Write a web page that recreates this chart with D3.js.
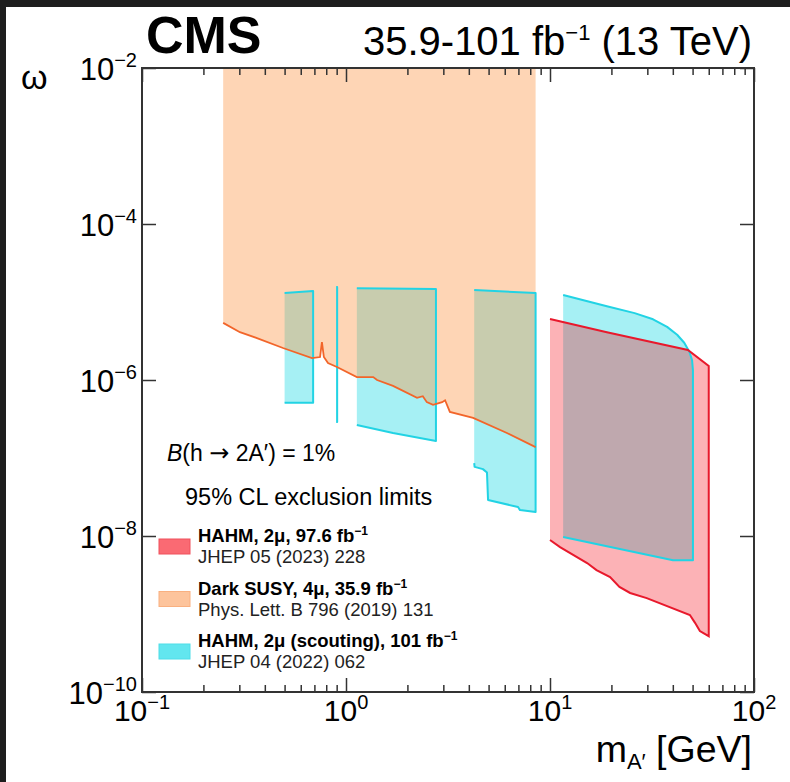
<!DOCTYPE html>
<html>
<head>
<meta charset="UTF-8" />
<style>
    body { margin: 0; padding: 0; background: #fff; }
    text { font-family: "Liberation Sans", Arial, sans-serif; fill: #000; }
    .frame { fill: none; stroke: #333; stroke-width: 2px; }
    .axis path { display: none; }
    .axis line { stroke: #333; stroke-width: 1.5px; }
</style>
<title>CMS dark photon limits</title>
</head>
<body>
<svg width="790" height="782"></svg>
<script src="https://d3js.org/d3.v7.min.js"></script>
<script>
    // ---- data (m_A' in GeV, omega) ----
    // Dark SUSY 4mu: excluded from the limit curve up to the top of the plot
    const susyMass  = [0.25, 0.302, 0.366, 0.491, 0.681, 0.746, 0.762, 0.779, 0.816, 0.903, 1.13, 1.36, 1.42, 1.70, 2.23, 2.38, 2.49, 2.67, 2.96, 3.06, 3.23, 4.20, 6.15, 8.5];
    const susyLimit = [5.4e-6, 4.1e-6, 3.45e-6, 2.57e-6, 1.91e-6, 1.97e-6, 3.07e-6, 1.97e-6, 1.65e-6, 1.47e-6, 1.09e-6, 1.09e-6, 1.0e-6, 8.4e-7, 5.9e-7, 6.2e-7, 5.2e-7, 4.8e-7, 5.2e-7, 5.5e-7, 3.9e-7, 3.26e-7, 2.09e-7, 1.38e-7];
    const susyTop = 1e-2;

    // HAHM 2mu scouting: excluded bands, [mass, omega] pairs
    const scoutTop = [
        [[0.5, 1.3e-5], [0.69, 1.38e-5]],
        [[0.895, 1.56e-5], [0.905, 1.56e-5]],
        [[1.13, 1.5e-5], [2.76, 1.47e-5]],
        [[4.25, 1.43e-5], [8.5, 1.3e-5]],
        [[11.6, 1.23e-5], [19, 8.8e-6], [26, 7.2e-6], [32, 6.0e-6], [37.5, 4.8e-6], [42, 3.8e-6], [45.5, 3.0e-6], [48.2, 2.3e-6], [49.7, 1.8e-6], [50.2, 1.34e-6]]
    ];
    const scoutBottom = [
        [[0.5, 5.1e-7], [0.69, 5.1e-7]],
        [[0.895, 2.9e-7], [0.905, 2.9e-7]],
        [[1.13, 2.65e-7], [1.7, 2.09e-7], [2.76, 1.65e-7]],
        [[4.25, 8.6e-8], [4.27, 7.7e-8], [4.69, 7.2e-8], [4.91, 6.5e-8], [4.97, 2.9e-8], [6.97, 2.35e-8], [7.13, 2.15e-8], [8.5, 2.03e-8]],
        [[11.6, 9.7e-9], [40.1, 4.9e-9], [50.2, 4.9e-9]]
    ];

    // HAHM 2mu 97.6 fb-1
    const hahmTop    = [[10, 6.05e-6], [19, 4.1e-6], [47.4, 2.43e-6], [60, 1.51e-6]];
    const hahmBottom = [[10, 8.9e-9], [11.2, 7.2e-9], [15.2, 4.5e-9], [16.9, 3.66e-9], [19.7, 2.98e-9], [21.9, 2.22e-9], [24.7, 1.86e-9], [29.8, 1.6e-9], [48.5, 9.7e-10], [51.4, 7.7e-10], [54.3, 6.05e-10], [60, 5.2e-10]];

    const xMajor = [0.1, 1, 10, 100];
    const xMajorExp = ["−1", "0", "1", "2"];
    const yMajor = [1e-2, 1e-4, 1e-6, 1e-8, 1e-10];
    const yMajorExp = ["−2", "−4", "−6", "−8", "−10"];

    const legendTitle = ["HAHM, 2μ, 97.6 fb", "Dark SUSY, 4μ, 35.9 fb", "HAHM, 2μ (scouting), 101 fb"];
    const legendRef = ["JHEP 05 (2023) 228", "Phys. Lett. B 796 (2019) 131", "JHEP 04 (2022) 062"];
    const legendFill = ["#fa6a73", "#fdc49c", "#62e6ef"];
    const legendStroke = ["#f0505c", "#f9b080", "#4fdde8"];

    // ---- drawing ----
    var svg = d3.select("svg");

    // screenshot border
    svg.append("rect").attr("width", 790).attr("height", 782).attr("fill", "#1e1e1e");
    svg.append("rect").attr("x", 6).attr("y", 7).attr("width", 784).attr("height", 775).attr("fill", "#fff");

    var x = d3.scaleLog().domain([0.1, 100]).range([142, 754]);
    var y = d3.scaleLog().domain([1e-10, 1e-2]).range([692, 68]);

    var line = d3.line().x(d => x(d[0])).y(d => y(d[1]));

    const cyanFill = "rgba(0,212,223,0.35)";
    const orangeFill = "rgba(253,150,70,0.4)";
    const redFill = "rgba(245,10,23,0.315)";

    // fills first
    scoutTop.forEach((top, i) => {
        var pts = top.concat(scoutBottom[i].slice().reverse());
        svg.append("path").attr("d", line(pts) + "Z").attr("fill", cyanFill);
    });

    var susyPts = susyMass.map((m, i) => [m, susyLimit[i]]);
    var susyPoly = [[susyMass[0], susyTop], [susyMass[susyMass.length - 1], susyTop]]
        .concat(susyPts.slice().reverse());
    svg.append("path").attr("d", line(susyPoly) + "Z").attr("fill", orangeFill);

    svg.append("path")
        .attr("d", line(hahmTop.concat(hahmBottom.slice().reverse())) + "Z")
        .attr("fill", redFill);

    // outlines
    scoutTop.forEach((top, i) => {
        svg.append("path")
            .attr("d", line(top.concat(scoutBottom[i].slice().reverse())))
            .attr("fill", "none").attr("stroke", "#22d3e4").attr("stroke-width", 2)
            .attr("stroke-linejoin", "round");
    });
    svg.append("path").attr("d", line(susyPts))
        .attr("fill", "none").attr("stroke", "#f2652a").attr("stroke-width", 1.8);
    svg.append("path").attr("d", line(hahmTop.concat(hahmBottom.slice().reverse())))
        .attr("fill", "none").attr("stroke", "#e8192c").attr("stroke-width", 2);

    // axes (inward ticks on all four sides)
    var xMinor = [];
    [0.1, 1, 10].forEach(d => { for (var k = 2; k <= 9; k++) xMinor.push(d * k); });

    function addAxis(axis, tx, ty) {
        svg.append("g").attr("class", "axis").attr("transform", `translate(${tx},${ty})`)
            .call(axis).selectAll("text").remove();
    }
    addAxis(d3.axisBottom(x).tickValues(xMajor).tickSize(-14).tickSizeOuter(0), 0, 692);
    addAxis(d3.axisBottom(x).tickValues(xMinor).tickSize(-7).tickSizeOuter(0), 0, 692);
    addAxis(d3.axisTop(x).tickValues(xMajor).tickSize(-14).tickSizeOuter(0), 0, 68);
    addAxis(d3.axisTop(x).tickValues(xMinor).tickSize(-7).tickSizeOuter(0), 0, 68);
    addAxis(d3.axisLeft(y).tickValues(yMajor).tickSize(-14).tickSizeOuter(0), 142, 0);
    addAxis(d3.axisRight(y).tickValues(yMajor).tickSize(-14).tickSizeOuter(0), 754, 0);

    svg.append("rect").attr("class", "frame")
        .attr("x", 142).attr("y", 68).attr("width", 612).attr("height", 624);

    // tick labels
    xMajor.forEach((v, i) => {
        var t = svg.append("text").attr("x", x(v)).attr("y", 721)
            .attr("text-anchor", "middle").style("font-size", "30px");
        t.append("tspan").text("10");
        t.append("tspan").attr("dy", -12).style("font-size", "20px").text(xMajorExp[i]);
    });
    yMajor.forEach((v, i) => {
        var t = svg.append("text").attr("x", 137).attr("y", y(v) + 12)
            .attr("text-anchor", "end").style("font-size", "31px");
        t.append("tspan").text("10");
        t.append("tspan").attr("dy", -13).style("font-size", "20px").text(yMajorExp[i]);
    });

    // axis titles
    var xt = svg.append("text").attr("x", 752).attr("y", 762)
        .attr("text-anchor", "end").style("font-size", "37.5px");
    xt.append("tspan").text("m");
    xt.append("tspan").attr("dy", 7).style("font-size", "22px").text("A′");
    xt.append("tspan").attr("dy", -7).text(" [GeV]");

    svg.append("text").attr("x", 21).attr("y", 89).style("font-size", "34px").text("ω");

    // header
    svg.append("text").attr("x", 146).attr("y", 53)
        .style("font-size", "52px").style("font-weight", "bold").text("CMS");
    var ht = svg.append("text").attr("x", 752).attr("y", 55)
        .attr("text-anchor", "end").style("font-size", "40px");
    ht.append("tspan").text("35.9-101 fb");
    ht.append("tspan").attr("dy", -15).style("font-size", "22px").text("−1");
    ht.append("tspan").attr("dy", 15).text(" (13 TeV)");

    // legend
    var bt = svg.append("text").attr("x", 167).attr("y", 461).style("font-size", "23px");
    bt.append("tspan").style("font-style", "italic").text("B");
    bt.append("tspan").text("(h ");
    bt.append("tspan").style("font-family", "'DejaVu Sans'").style("font-size", "24px").text("→");
    bt.append("tspan").text(" 2A′) = 1%");

    svg.append("text").attr("x", 185).attr("y", 505).style("font-size", "23.5px")
        .text("95% CL exclusion limits");

    legendTitle.forEach((s, i) => {
        var yy = 542 + i * 52.5;
        svg.append("rect").attr("x", 159).attr("y", yy - 3).attr("width", 31).attr("height", 15)
            .attr("fill", legendFill[i]).attr("stroke", legendStroke[i]).attr("stroke-width", 1);
        var t = svg.append("text").attr("x", 198).attr("y", yy)
            .style("font-size", "18.5px").style("font-weight", "bold");
        t.append("tspan").text(s);
        t.append("tspan").attr("dy", -7).style("font-size", "12px").text("−1");
        svg.append("text").attr("x", 198).attr("y", yy + 21).style("font-size", "18.5px")
            .style("fill", "#222").text(legendRef[i]);
    });
</script>
</body>
</html>
